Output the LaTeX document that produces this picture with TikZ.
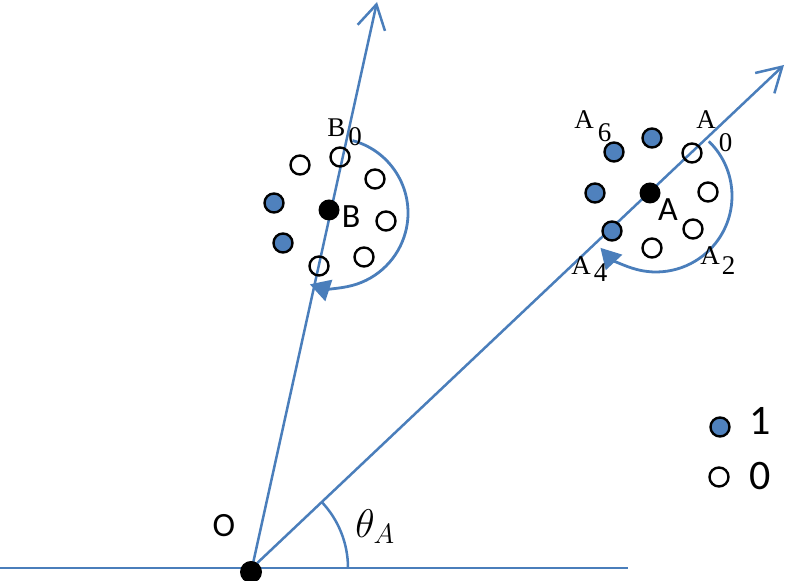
\RequirePackage{fix-cm}
\documentclass[tikz,border=0pt]{standalone}
\usepackage{fontspec}
\newfontfamily\sanslabel{Carlito}
\newfontfamily\seriflabel{Liberation Serif}
\usepackage{xcolor}
\usepackage{tikz}
\usetikzlibrary{arrows.meta}

\definecolor{rayblue}{RGB}{74,126,187}
\definecolor{dotblue}{RGB}{79,129,189}

\tikzset{
    ray/.style={draw=rayblue, line width=1.25pt},
    turn/.style={draw=rayblue, line width=1.4pt, -{Triangle[length=10pt,width=11pt]}},
    one/.style={circle, draw=black, fill=dotblue, line width=1.2pt, minimum size=9.5pt, inner sep=0pt},
    zero/.style={circle, draw=black, line width=1.2pt, minimum size=9.5pt, inner sep=0pt},
    centre/.style={circle, fill=black, minimum size=10.5pt, inner sep=0pt},
    word/.style={font=\fontsize{17}{20}\selectfont\sanslabel, inner sep=0pt},
    idx/.style={font=\fontsize{13.5}{15}\selectfont\seriflabel, inner sep=0pt, anchor=base west}
}

\begin{document}
\begin{tikzpicture}[x=0.5pt,y=0.5pt]
        \useasboundingbox (0,0) rectangle (787,581);

        \coordinate (base) at (0,13);
        \coordinate (baseend) at (628,13);
        \coordinate (Oc) at (252,13);
        \coordinate (tipB) at (377,579);
        \coordinate (tipA) at (784,516);
        \coordinate (Bc) at (333,368);
        \coordinate (Ac) at (656,385);

        % axis and the two rays
        \draw[ray] (base) -- (baseend);
        \draw[ray, -{Straight Barb[length=12pt,width=14pt]}] (Oc) -- (tipB);
        \draw[ray, -{Straight Barb[length=12pt,width=14pt]}] (Oc) -- (tipA);

        % angle of A
        \draw[ray] ([shift={(96,0)}]Oc) arc[start angle=0, end angle=43.4, radius=96];
        \node[anchor=base west, inner sep=0pt, font=\fontsize{20}{22}\selectfont] (theta) at (355,43) {$\theta_A$};

        % turn around B
        \draw[turn] ([shift={(75:75)}]Bc) arc[start angle=75, end angle=-108, radius=75];

        % turn around A
        \draw[turn] ([shift={(46:76)}]Ac) arc[start angle=46, end angle=-137, radius=76];

        % cluster B
        \node[zero] (b0) at (340,424) {};
        \node[zero] (b1) at (375,402) {};
        \node[zero] (b2) at (386,360) {};
        \node[zero] (b3) at (364,324) {};
        \node[zero] (b4) at (319,315) {};
        \node[one] (b5) at (283,338) {};
        \node[one] (b6) at (274,378) {};
        \node[zero] (b7) at (300,416) {};
        \node[centre] (B) at (329,371) {};

        % cluster A
        \node[zero] (a0) at (692,428) {};
        \node[zero] (a1) at (708,389) {};
        \node[zero] (a2) at (693,352) {};
        \node[zero] (a3) at (652,333) {};
        \node[one] (a4) at (612,350) {};
        \node[one] (a5) at (595,388) {};
        \node[one] (a6) at (614,429) {};
        \node[one] (a7) at (652,443) {};
        \node[centre] (A) at (650,388) {};

        \node[centre, minimum size=11pt] (O) at (251,9) {};

        % labels
        \node[word] (lblB) at (351,364) {B};
        \node[word] (lblA) at (668,371) {A};
        \node[word] (lblO) at (224,55) {O};

        \node[idx] (lblB0) at (327,444) {B\hspace{1.5pt}\raisebox{-4.5pt}{0}};
        \node[idx] (lblA0) at (696,452) {A\hspace{1.5pt}\raisebox{-11.5pt}{0}};
        \node[idx] (lblA6) at (574,452) {A\hspace{2pt}\raisebox{-6.5pt}{6}};
        \node[idx] (lblA4) at (571,306) {A\hspace{1.5pt}\raisebox{-3.5pt}{4}};
        \node[idx] (lblA2) at (700,316) {A\hspace{1pt}\raisebox{-5pt}{2}};

        % legend
        \node[one] (key1) at (720,154) {};
        \node[zero] (key0) at (719,104) {};
        \node[word, font=\fontsize{21}{24}\selectfont\sanslabel] (lbl1) at (760,160) {1};
        \node[word, font=\fontsize{21}{24}\selectfont\sanslabel] (lbl0) at (760,105) {0};
    \end{tikzpicture}
\end{document}
